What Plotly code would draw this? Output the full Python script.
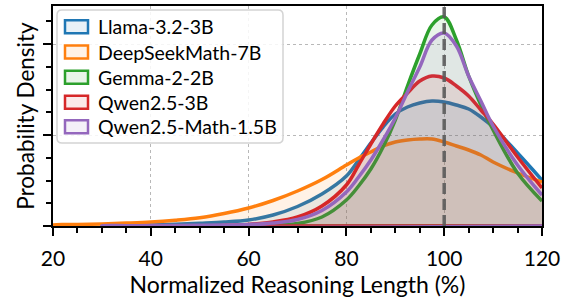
import plotly.graph_objects as go

# x grid (Normalized Reasoning Length, %)
x_full = [20, 25, 30, 35, 40, 45, 50, 55, 60, 65, 70, 75, 80, 82.5, 85, 87.5, 90,
          92.5, 95, 97.5, 100, 102.5, 105, 107.5, 110, 115, 120]

# densities (scaled: value / 4550 -> density)
llama = [0, 0.1, 0.3, 0.6, 1.0, 1.7, 2.7, 3.9, 6.0, 11, 19.5, 32, 50, 66, 83, 99, 112,
         119, 123, 125, 124, 121, 117, 109, 99, 73, 46]
deepseek = [1.0, 1.4, 2.0, 2.9, 4.0, 5.8, 8.3, 12.5, 18, 25.5, 35, 46.5, 61, 68, 74, 80, 84,
            86, 87, 87, 84, 80, 76, 71, 64, 53, 44]
gemma = [0, 0, 0, 0, 0, 0, 0, 0, 0.2, 0.7, 2.5, 9, 26, 40, 57, 79, 106,
         140, 172, 201, 209, 186, 150, 121, 96, 53, 25]
qwen3b = [0, 0, 0, 0, 0, 0, 0.2, 0.6, 1.6, 4, 9, 20, 41, 61, 82, 102, 120,
          133, 145, 150, 148, 140, 130, 116, 102, 69, 38]
qwenmath = [None, None, 0.2, 0.3, 0.4, 0.5, 0.7, 1.0, 1.6, 3, 6.5, 15.5, 34, 49, 66, 86, 108,
            134, 159, 186, 193, 180, 150, 125, 100, 61, 31]

names = ["Llama-3.2-3B", "DeepSeekMath-7B", "Gemma-2-2B", "Qwen2.5-3B", "Qwen2.5-Math-1.5B"]
series = [llama, deepseek, gemma, qwen3b, qwenmath]
starts = [30, 20, 30, 30, 30]
colors = ["#1f77b4", "#ff7f0e", "#2ca02c", "#d62728", "#9467bd"]
fills = ["rgba(31,119,180,0.1)", "rgba(255,127,14,0.1)", "rgba(44,160,44,0.1)",
         "rgba(214,39,40,0.1)", "rgba(148,103,189,0.1)"]
SCALE = 1 / 4550.0

W, H = 570, 299
L, R, T, B = 53, 28, 6, 73
PW, PH = W - L - R, H - T - B


def pxx(px):
    return (px - L) / PW


def pxy(py):
    return (H - B - py) / PH


fig = go.Figure()
for name, vals, st, c, fc in zip(names, series, starts, colors, fills):
    xs = [x for x, v in zip(x_full, vals) if v is not None and x >= st]
    ys = [v * SCALE for x, v in zip(x_full, vals) if v is not None and x >= st]
    px = [xs[-1], xs[0]] + xs
    py = [0, 0] + ys
    fig.add_trace(go.Scatter(
        x=px, y=py, mode="lines", name=name, fill="toself", fillcolor=fc,
        line=dict(color=c, width=3.5, shape="spline", smoothing=1.0),
        hoverinfo="skip", showlegend=False))

fig.add_shape(type="line", x0=100, x1=100, y0=0, y1=1, xref="x", yref="paper",
              line=dict(color="rgba(90,90,90,0.9)", width=3.5, dash="11px,5px"),
              layer="above")

font = "Lato"

# manual legend (frame with rounded corners, patch boxes, labels)
x0, x1, y0, y1, r = 57, 283, 10, 143, 5
rx, ry = r / PW, r / PH
X0, X1, Y0, Y1 = pxx(x0), pxx(x1), pxy(y0), pxy(y1)
path = (f"M{X0+rx},{Y0} L{X1-rx},{Y0} Q{X1},{Y0} {X1},{Y0-ry} "
        f"L{X1},{Y1+ry} Q{X1},{Y1} {X1-rx},{Y1} L{X0+rx},{Y1} "
        f"Q{X0},{Y1} {X0},{Y1+ry} L{X0},{Y0-ry} Q{X0},{Y0} {X0+rx},{Y0} Z")
fig.add_shape(type="path", path=path, xref="paper", yref="paper",
              line=dict(color="#d4d4d4", width=1.5), fillcolor="rgba(255,255,255,0.85)",
              layer="above")
rows = [26.7, 52.0, 77.3, 102.3, 126.7]
for name, c, fc, yc in zip(names, colors, fills, rows):
    fig.add_shape(type="rect", xref="paper", yref="paper",
                  x0=pxx(65), x1=pxx(88), y0=pxy(yc - 6.5), y1=pxy(yc + 6.5),
                  line=dict(color=c, width=2.5), fillcolor=fc, layer="above")
    fig.add_annotation(x=pxx(96), y=pxy(yc), xref="paper", yref="paper", text=name,
                       showarrow=False, xanchor="left", yanchor="middle",
                       font=dict(size=19.5, family=font, color="black"))

fig.update_layout(
    width=W, height=H,
    margin=dict(l=L, r=R, t=T, b=B),
    plot_bgcolor="white", paper_bgcolor="white",
    font=dict(family=font, color="black"),
    showlegend=False,
)
fig.update_xaxes(
    range=[20, 120], dtick=20, tick0=20, ticks="outside", ticklen=8, tickwidth=2,
    tickcolor="black", showline=True, linecolor="black", linewidth=2, mirror=True,
    showgrid=True, gridcolor="#b8b8b8", griddash="dot", gridwidth=1,
    tickfont=dict(size=21, family=font), zeroline=False, automargin=False,
    ticklabelstandoff=5,
    minor=dict(dtick=5, ticklen=5, tickwidth=1.5, tickcolor="black", showgrid=False, ticks="outside"),
    title=dict(text="Normalized Reasoning Length (%)", font=dict(size=23, family=font), standoff=4),
)
fig.update_yaxes(
    range=[0, 220 * SCALE], dtick=0.02, tick0=0, ticks="outside", ticklen=8, tickwidth=2,
    tickcolor="black", showline=True, linecolor="black", linewidth=2, mirror=True,
    showgrid=True, gridcolor="#b8b8b8", griddash="dot", gridwidth=1,
    showticklabels=False, zeroline=False, automargin=False,
    minor=dict(dtick=0.005, ticklen=5, tickwidth=1.5, tickcolor="black", showgrid=False, ticks="outside"),
    title=dict(text="Probability Density", font=dict(size=22.5, family=font), standoff=2),
)
fig.write_html("out.html", config={"displayModeBar": False},
               post_script="document.body.style.margin='0';document.body.style.padding='0';")
